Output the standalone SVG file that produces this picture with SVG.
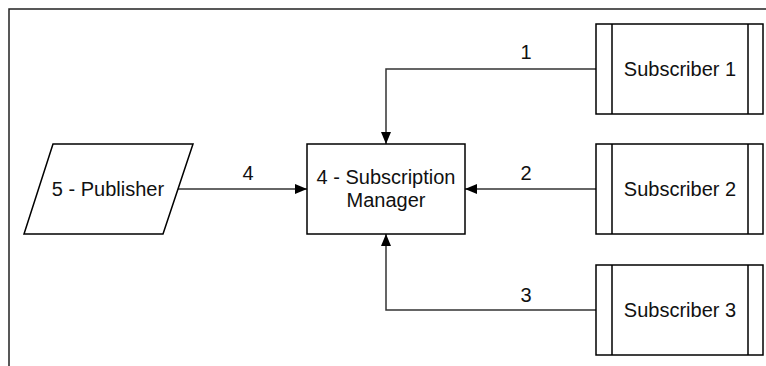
<svg xmlns="http://www.w3.org/2000/svg" width="766" height="366" viewBox="0 0 766 366">
  <style>
    .box { fill: #fff; stroke: #000; stroke-width: 1.5; }
    .edge { fill: none; stroke: #333; stroke-width: 1.5; }
    .lbl { font-family: "Liberation Sans", Arial, sans-serif; font-size: 20px; fill: #111; text-anchor: middle; }
  </style>
  <defs>
    <marker id="arrow" viewBox="0 0 12 10" refX="12" refY="5" markerWidth="12" markerHeight="10" markerUnits="userSpaceOnUse" orient="auto">
      <path d="M0,0 L12,5 L0,10 z" fill="#000"/>
    </marker>
  </defs>
  <rect width="766" height="366" fill="#fff"/>
  <!-- outer frame -->
  <path d="M9,366 V9 H766" fill="none" stroke="#222" stroke-width="1.5"/>

  <g id="connectors">
    <path class="edge" d="M596,69 H386 V144" marker-end="url(#arrow)"/>
    <path class="edge" d="M596,189 H465" marker-end="url(#arrow)"/>
    <path class="edge" d="M596,310 H386 V234" marker-end="url(#arrow)"/>
    <path class="edge" d="M178,189 H307" marker-end="url(#arrow)"/>
    <text class="lbl" x="526" y="59">1</text>
    <text class="lbl" x="526" y="180">2</text>
    <text class="lbl" x="526" y="302">3</text>
    <text class="lbl" x="248" y="180">4</text>
  </g>

  <g id="publisher">
    <polygon class="box" points="53,144 193,144 163,234 24,234"/>
    <text class="lbl" x="108" y="196">5 - Publisher</text>
  </g>

  <g id="manager">
    <rect class="box" x="307" y="144" width="158" height="90"/>
    <text class="lbl" x="386" y="184">4 - Subscription</text>
    <text class="lbl" x="386" y="207">Manager</text>
  </g>

  <g id="subscriber1">
    <rect class="box" x="596" y="24" width="167" height="90"/>
    <path class="box" d="M612,24 V114 M748,24 V114"/>
    <text class="lbl" x="680" y="76">Subscriber 1</text>
  </g>

  <g id="subscriber2">
    <rect class="box" x="596" y="144" width="167" height="90"/>
    <path class="box" d="M612,144 V234 M748,144 V234"/>
    <text class="lbl" x="680" y="196">Subscriber 2</text>
  </g>

  <g id="subscriber3">
    <rect class="box" x="596" y="265" width="167" height="90"/>
    <path class="box" d="M612,265 V355 M748,265 V355"/>
    <text class="lbl" x="680" y="317">Subscriber 3</text>
  </g>
</svg>
